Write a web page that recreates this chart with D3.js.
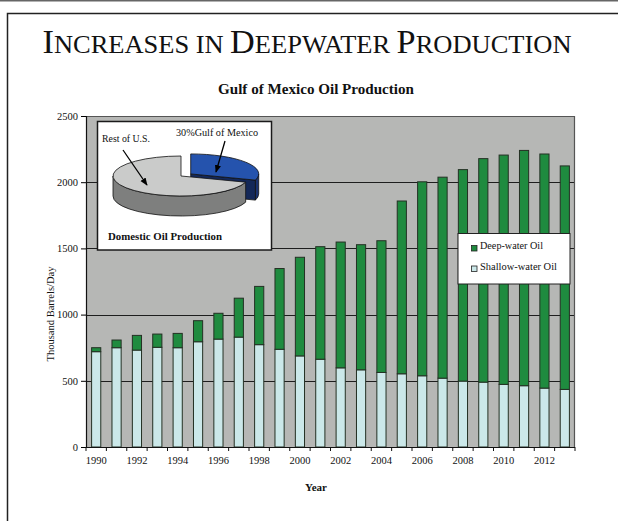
<!DOCTYPE html>
<html>
<head>
<meta charset="utf-8">
<script src="https://cdn.jsdelivr.net/npm/d3@7"></script>
<style>
  html, body { margin: 0; padding: 0; background: #fff; }
  svg { display: block; }
  text { font-family: "Liberation Serif", "Times New Roman", serif; fill: #111; }
</style>
</head>
<body>
<svg id="chart" width="618" height="521"></svg>
<script>
// Gulf of Mexico oil production, thousand barrels per day
const years = [1990,1991,1992,1993,1994,1995,1996,1997,1998,1999,2000,2001,
               2002,2003,2004,2005,2006,2007,2008,2009,2010,2011,2012,2013];
const shallowOil = [720,750,732,753,750,795,815,830,773,738,688,663,
                    598,583,563,553,538,520,498,490,473,463,445,435];
const deepOil = [30,58,111,100,108,159,195,294,440,610,745,850,
                 950,945,995,1305,1465,1518,1597,1688,1732,1777,1768,1688];
const yTicks = [0,500,1000,1500,2000,2500];
const xTickLabels = [1990,1992,1994,1996,1998,2000,2002,2004,2006,2008,2010,2012];
const seriesNames = ["Deep-water Oil","Shallow-water Oil"];

// Domestic oil production share
const pieLabels = ["Gulf of Mexico","Rest of U.S."];
const pieShares = [30,70];

const svg = d3.select("#chart");

// page frame
svg.append("line").attr("x1",0).attr("x2",618).attr("y1",0.5).attr("y2",0.5)
  .attr("stroke","#666").attr("stroke-width",2);
svg.append("path").attr("d","M7.5,521 V13.5 H618")
  .attr("fill","none").attr("stroke","#222").attr("stroke-width",1.5);

// heading in small capitals
const title = svg.append("text").attr("x",307).attr("y",53).attr("text-anchor","middle")
  .attr("textLength",529).attr("lengthAdjust","spacingAndGlyphs");
const words = ["Increases","in","Deepwater","Production"];
words.forEach((w,i)=>{
  const big = w[0] === w[0].toUpperCase();
  if (i>0) title.append("tspan").attr("font-size",25).text(" ");
  if (big) {
    title.append("tspan").attr("font-size",33).text(w[0]);
    title.append("tspan").attr("font-size",25.5).text(w.slice(1).toUpperCase());
  } else {
    title.append("tspan").attr("font-size",25.5).text(w.toUpperCase());
  }
});
title.attr("fill","#1a1a1a");

svg.append("text").attr("x",316).attr("y",94).attr("text-anchor","middle")
  .attr("font-size",15).attr("font-weight","bold")
  .attr("textLength",196).attr("lengthAdjust","spacingAndGlyphs")
  .text("Gulf of Mexico Oil Production");

// plot area
const plot = {left:86, right:575, top:116, bottom:447};
const x = d3.scaleBand().domain(years).range([plot.left, plot.right]).paddingInner(0.55).paddingOuter(0.275);
const y = d3.scaleLinear().domain([0,2500]).range([plot.bottom, plot.top]);

svg.append("rect").attr("x",plot.left).attr("y",plot.top)
  .attr("width",plot.right-plot.left).attr("height",plot.bottom-plot.top)
  .attr("fill","#b6b7b5");

// gridlines
svg.append("g").selectAll("line").data(yTicks.filter(d=>d>0 && d<2500)).join("line")
  .attr("x1",plot.left).attr("x2",plot.right)
  .attr("y1",d=>Math.round(y(d))+0.5).attr("y2",d=>Math.round(y(d))+0.5)
  .attr("stroke","#1e1e1e").attr("stroke-width",1);

// plot border (top, right)
svg.append("path").attr("d",`M${plot.left},${plot.top+0.5} H${plot.right-0.5} V${plot.bottom}`)
  .attr("fill","none").attr("stroke","#555").attr("stroke-width",1.2);

// stacked bars
const stackData = years.map((yr,i)=>({year:yr, shallow:shallowOil[i], deep:deepOil[i]}));
const stacked = d3.stack().keys(["shallow","deep"])(stackData);
const fills = {shallow:"#cbe8e9", deep:"#1f8b3f"};
svg.append("g").selectAll("g").data(stacked).join("g")
  .attr("fill",s=>fills[s.key])
  .selectAll("rect").data(s=>s).join("rect")
  .attr("x",d=>x(d.data.year)).attr("width",x.bandwidth())
  .attr("y",d=>y(d[1])).attr("height",d=>y(d[0])-y(d[1]))
  .attr("stroke","#243024").attr("stroke-width",1);

// axes
const yAxis = d3.axisLeft(y).tickValues(yTicks).tickSize(5).tickPadding(3).tickFormat(d3.format("d"));
const gy = svg.append("g").attr("transform",`translate(${plot.left},0)`).call(yAxis);
gy.select(".domain").attr("stroke","#111").attr("stroke-width",1.2);
gy.selectAll("text").attr("font-size",10.5).attr("font-family","Liberation Serif").attr("fill","#111");

const xAxis = d3.axisBottom(x).tickValues(xTickLabels).tickSize(0).tickPadding(10);
const gx = svg.append("g").attr("transform",`translate(0,${plot.bottom})`).call(xAxis);
gx.select(".domain").remove();
gx.selectAll("text").attr("font-size",10.5).attr("font-family","Liberation Serif").attr("fill","#111");
svg.append("line").attr("x1",plot.left).attr("x2",plot.right)
  .attr("y1",plot.bottom+0.5).attr("y2",plot.bottom+0.5).attr("stroke","#111").attr("stroke-width",1.2);
// tick marks at category boundaries
const step = x.step();
svg.append("g").selectAll("line").data(d3.range(years.length+1)).join("line")
  .attr("x1",i=>plot.left+i*step).attr("x2",i=>plot.left+i*step)
  .attr("y1",plot.bottom).attr("y2",plot.bottom+4)
  .attr("stroke","#111");

// axis titles
svg.append("text").attr("transform","translate(54,314) rotate(-90)")
  .attr("text-anchor","middle").attr("font-size",10.5)
  .attr("textLength",95).attr("lengthAdjust","spacingAndGlyphs")
  .text("Thousand Barrels/Day");
svg.append("text").attr("x",316).attr("y",491).attr("text-anchor","middle")
  .attr("font-size",11).attr("font-weight","bold").text("Year");

// legend
const lg = svg.append("g");
lg.append("rect").attr("x",458).attr("y",233.5).attr("width",112).attr("height",50.5)
  .attr("fill","#fff").attr("stroke","#222").attr("stroke-width",1);
const legendFills = [fills.deep, fills.shallow];
seriesNames.forEach((n,i)=>{
  lg.append("rect").attr("x",471.5).attr("y",245.5+i*20.5).attr("width",5.5).attr("height",5.5)
    .attr("fill",legendFills[i]).attr("stroke","#222").attr("stroke-width",0.8);
  lg.append("text").attr("x",480).attr("y",249+i*20.5).attr("font-size",10.5)
    .attr("textLength",i===0?63:77).attr("lengthAdjust","spacingAndGlyphs").text(n);
});

// inset: domestic oil production pie
const inset = svg.append("g");
inset.append("rect").attr("x",97.5).attr("y",121.5).attr("width",174).attr("height",128.5)
  .attr("fill","#fff").attr("stroke","#1a1a1a").attr("stroke-width",1.5);

const pc = {cx:181, cy:176, rx:68, ry:20, depth:20};
const arcs = d3.pie().sort(null)(pieShares);
const pt = (a, ox, oy, dz=0) => [pc.cx+ox+pc.rx*Math.sin(a), pc.cy+oy-pc.ry*Math.cos(a)+dz];
function topFace(a0,a1,ox,oy){
  const p0 = pt(a0,ox,oy), p1 = pt(a1,ox,oy);
  const large = (a1-a0) > Math.PI ? 1 : 0;
  return `M${pc.cx+ox},${pc.cy+oy} L${p0} A${pc.rx},${pc.ry} 0 ${large} 1 ${p1} Z`;
}
function wall(a0,a1,ox,oy){
  const p0 = pt(a0,ox,oy), p1 = pt(a1,ox,oy);
  const q0 = pt(a0,ox,oy,pc.depth), q1 = pt(a1,ox,oy,pc.depth);
  const large = (a1-a0) > Math.PI ? 1 : 0;
  return `M${p0} A${pc.rx},${pc.ry} 0 ${large} 1 ${p1} L${q1} A${pc.rx},${pc.ry} 0 ${large} 0 ${q0} Z`;
}
function radial(a,ox,oy){
  const c = [pc.cx+ox, pc.cy+oy];
  const p = pt(a,ox,oy);
  return `M${c} L${p} L${[p[0],p[1]+pc.depth]} L${[c[0],c[1]+pc.depth]} Z`;
}
const pieColors = [
  {top:"#2553ad", wall:"#1b3370", face:"#142858"},
  {top:"#cacbca", wall:"#7e7f7e", face:"#6a6a6a"}
];
const explode = 12;
const pg = inset.append("g").attr("stroke","#111").attr("stroke-width",0.8).attr("stroke-linejoin","round");
arcs.forEach((d,i)=>{
  const mid = (d.startAngle+d.endAngle)/2;
  const ox = i===0 ? explode*Math.sin(mid) : 0;
  const oy = i===0 ? -explode*Math.cos(mid)*pc.ry/pc.rx : 0;
  const col = pieColors[i];
  const f0 = Math.max(d.startAngle, Math.PI/2), f1 = Math.min(d.endAngle, 3*Math.PI/2);
  if (f1 > f0) pg.append("path").attr("d",wall(f0,f1,ox,oy)).attr("fill",col.wall);
  if (i===0) pg.append("path").attr("d",radial(d.endAngle,ox,oy)).attr("fill",col.face);
  pg.append("path").attr("d",topFace(d.startAngle,d.endAngle,ox,oy)).attr("fill",col.top);
});

inset.append("text").attr("x",102).attr("y",141.5).attr("font-size",10)
  .attr("textLength",48).attr("lengthAdjust","spacingAndGlyphs").text(pieLabels[1]);
inset.append("text").attr("x",176).attr("y",136).attr("font-size",10)
  .attr("textLength",82).attr("lengthAdjust","spacingAndGlyphs")
  .text(`${pieShares[0]}%${pieLabels[0]}`);
inset.append("text").attr("x",108).attr("y",240).attr("font-size",10.5).attr("font-weight","bold")
  .attr("textLength",114).attr("lengthAdjust","spacingAndGlyphs").text("Domestic  Oil Production");

// pointer arrows
const defs = svg.append("defs");
defs.append("marker").attr("id","ah").attr("viewBox","0 0 10 10").attr("refX",9).attr("refY",5)
  .attr("markerWidth",6).attr("markerHeight",6).attr("orient","auto")
  .append("path").attr("d","M0,1 L10,5 L0,9 Z").attr("fill","#000");
inset.append("line").attr("x1",123).attr("y1",150).attr("x2",147).attr("y2",185)
  .attr("stroke","#000").attr("stroke-width",1.3).attr("marker-end","url(#ah)");
inset.append("line").attr("x1",225).attr("y1",141).attr("x2",216).attr("y2",172)
  .attr("stroke","#000").attr("stroke-width",1.3).attr("marker-end","url(#ah)");
</script>
</body>
</html>
